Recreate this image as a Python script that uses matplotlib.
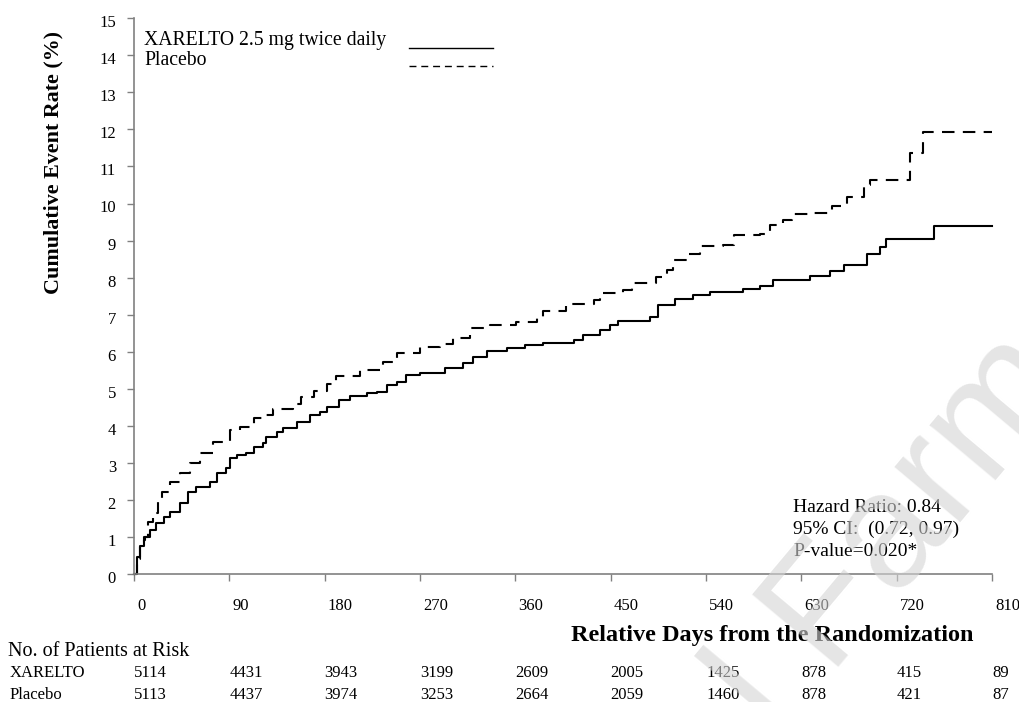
import matplotlib
matplotlib.use("Agg")
import matplotlib.pyplot as plt
from matplotlib import transforms
from matplotlib.lines import Line2D

plt.rcParams["font.family"] = ["Liberation Serif", "DejaVu Serif"]

# cumulative event rate (%) step points
xarelto_days = [0, 3, 6, 9, 10, 15, 21, 28, 34, 43, 51, 59, 72, 78, 87, 91, 97, 106,
                113, 122, 125, 135, 141, 154, 166, 176, 182, 194, 204, 220, 229, 239,
                248, 257, 270, 294, 311, 320, 333, 352, 369, 386, 415, 424, 440, 449,
                457, 487, 495, 511, 528, 544, 575, 591, 603, 638, 657, 670, 692, 704,
                710, 755, 810]
xarelto_rate = [0, 0.45, 0.75, 0.92, 0.99, 1.2, 1.37, 1.55, 1.68, 1.91, 2.22, 2.36,
                2.49, 2.72, 2.85, 3.12, 3.21, 3.27, 3.44, 3.53, 3.71, 3.84, 3.93, 4.11,
                4.29, 4.38, 4.52, 4.70, 4.80, 4.88, 4.92, 5.10, 5.19, 5.37, 5.43, 5.55,
                5.70, 5.87, 6.03, 6.10, 6.18, 6.24, 6.32, 6.46, 6.59, 6.72, 6.84, 6.95,
                7.26, 7.41, 7.53, 7.61, 7.68, 7.77, 7.94, 8.04, 8.17, 8.33, 8.65, 8.83,
                9.04, 9.40, 9.40]

placebo_days = [0, 3, 6, 9, 13, 18, 23, 26, 34, 43, 53, 62, 75, 91, 100, 113, 125,
                131, 150, 158, 170, 182, 191, 213, 235, 248, 270, 289, 301, 317, 336,
                361, 380, 386, 408, 434, 440, 462, 470, 493, 503, 509, 522, 534, 556,
                566, 591, 600, 613, 621, 638, 659, 673, 689, 695, 733, 745, 810]
placebo_rate = [0, 0.4, 0.74, 1.0, 1.41, 1.64, 2.0, 2.22, 2.49, 2.72, 2.99, 3.26,
                3.57, 3.89, 3.98, 4.20, 4.29, 4.46, 4.59, 4.79, 4.95, 5.13, 5.34, 5.51,
                5.73, 5.96, 6.12, 6.21, 6.36, 6.65, 6.72, 6.79, 6.92, 7.11, 7.29, 7.40,
                7.59, 7.67, 7.86, 8.02, 8.21, 8.47, 8.65, 8.85, 8.87, 9.15, 9.19, 9.42,
                9.55, 9.72, 9.75, 9.93, 10.18, 10.50, 10.63, 11.35, 11.94, 11.94]

day_ticks = [0, 90, 180, 270, 360, 450, 540, 630, 720, 810]
rate_ticks = list(range(0, 16))
risk_xarelto = [5114, 4431, 3943, 3199, 2609, 2005, 1425, 878, 415, 89]
risk_placebo = [5113, 4437, 3974, 3253, 2664, 2059, 1460, 878, 421, 87]

W, H = 1020, 702


def fx(px):
    return px / W


def fy(py):
    return 1 - py / H


fig = plt.figure(figsize=(W / 100, H / 100), dpi=100)
ax = fig.add_axes([fx(134), fy(574), fx(992) - fx(134), fy(18.25) - fy(574)])

ax.step(xarelto_days, xarelto_rate, where="post", color="black", lw=1.5, clip_on=False)
ax.step(placebo_days, placebo_rate, where="post", color="black", lw=1.5,
        linestyle=(0, (6, 4)), clip_on=False)

ax.set_xlim(0, 810)
ax.set_ylim(0, 15)
ax.set_xticks(day_ticks)
ax.set_yticks(rate_ticks)
for s in ["top", "right"]:
    ax.spines[s].set_visible(False)
for s in ["left", "bottom"]:
    ax.spines[s].set_color("#808080")
    ax.spines[s].set_linewidth(1.2)
ax.tick_params(axis="both", direction="out", length=5, width=1.0, color="#808080",
               labelsize=12)
ax.tick_params(axis="x", pad=12)
ax.tick_params(axis="y", pad=8)
xoff = transforms.ScaledTranslation(3 / 100, 0, fig.dpi_scale_trans)
for lab in ax.get_xticklabels():
    lab.set_horizontalalignment("left")
    lab.set_transform(lab.get_transform() + xoff)
yoff = transforms.ScaledTranslation(0, -3 / 100, fig.dpi_scale_trans)
for lab in ax.get_yticklabels():
    lab.set_transform(lab.get_transform() + yoff)

# axis titles
fig.text(fx(53), fy(162), "Cumulative Event Rate (%)", rotation=90, ha="center",
         va="center", fontsize=15.8, fontweight="bold")
fig.text(fx(772), fy(636), "Relative Days from the Randomization", ha="center",
         va="center", fontsize=17.5, fontweight="bold")

# legend drawn by hand: text on the left, line key on the right
fig.text(fx(144), fy(45), "XARELTO 2.5 mg twice daily", fontsize=14.2, va="baseline")
fig.text(fx(144), fy(65), "Placebo", fontsize=14.2, va="baseline")
fig.add_artist(Line2D([fx(409), fx(493)], [fy(47.5), fy(47.5)], color="black", lw=1))
fig.add_artist(Line2D([fx(409), fx(493)], [fy(65.5), fy(65.5)], color="black", lw=1,
                      linestyle=(0, (5, 3.5))))

# stats box
fig.text(fx(793), fy(507), "Hazard Ratio: 0.84", fontsize=14, va="center")
fig.text(fx(793), fy(529), "95% CI:  (0.72, 0.97)", fontsize=14, va="center")
fig.text(fx(793), fy(551), "P-value=0.020*", fontsize=14, va="center")

# number at risk table
fig.text(fx(8), fy(651), "No. of Patients at Risk", fontsize=14.5, va="center")
fig.text(fx(10), fy(673), "XARELTO", fontsize=12, va="center")
fig.text(fx(10), fy(695), "Placebo", fontsize=12, va="center")
blend = transforms.blended_transform_factory(ax.transData, fig.transFigure)
for d, a, b in zip(day_ticks, risk_xarelto, risk_placebo):
    ax.text(d, fy(673), str(a), transform=blend, fontsize=12, va="center", ha="left",
            clip_on=False)
    ax.text(d, fy(695), str(b), transform=blend, fontsize=12, va="center", ha="left",
            clip_on=False)

# faint watermark
fig.text(fx(895), fy(535), "al Farma", rotation=50, ha="center", va="center",
         fontsize=118, family="Liberation Sans", color="#d4d4d4", alpha=0.6, zorder=10)

fig.savefig("out.png", dpi=100)
